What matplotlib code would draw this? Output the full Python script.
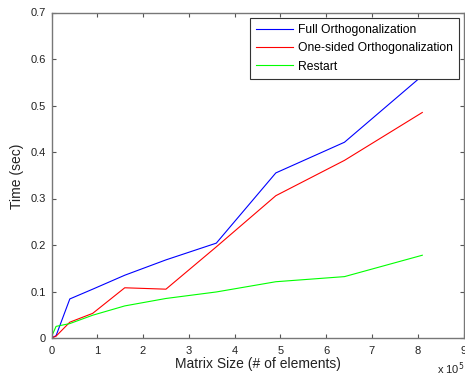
import matplotlib
matplotlib.use('Agg')
import matplotlib.pyplot as plt

# matrix size in units of 1e5 elements
sizes = [0.001, 0.1, 0.4, 0.9, 1.6, 2.5, 3.6, 4.9, 6.4, 8.1]
full_orth = [0.0, 0.005, 0.084, 0.105, 0.135, 0.168, 0.204, 0.355, 0.421, 0.564]
one_sided = [0.0, 0.004, 0.034, 0.053, 0.108, 0.105, 0.196, 0.306, 0.382, 0.485]
restart = [0.003, 0.025, 0.031, 0.049, 0.069, 0.085, 0.099, 0.121, 0.132, 0.178]

plt.rcParams['font.family'] = ['Liberation Sans', 'DejaVu Sans']

W, H = 465.0, 375.0
fig = plt.figure(figsize=(4.65, 3.75), dpi=100)
# axes box in pixels: left 51.5, right 463.5, top 12.5, bottom 338
ax = fig.add_axes([51.5 / W, 1 - 338 / H, 412 / W, 325.5 / H])

ax.plot(sizes, full_orth, color='#0000ff', lw=0.8, label='Full Orthogonalization')
ax.plot(sizes, one_sided, color='#ff0000', lw=0.8, label='One-sided Orthogonalization')
ax.plot(sizes, restart, color='#00ff00', lw=0.8, label='Restart')

ax.set_xlim(0, 9)
ax.set_ylim(0, 0.7)
ax.set_xticks(range(10))
ax.set_yticks([0, 0.1, 0.2, 0.3, 0.4, 0.5, 0.6, 0.7])
ax.set_yticklabels(['0', '0.1', '0.2', '0.3', '0.4', '0.5', '0.6', '0.7'])
ax.tick_params(direction='in', top=True, right=True, labelsize=8, length=3,
               color='#555555', labelcolor='#222222')
ax.tick_params(axis='x', pad=5.5)
ax.tick_params(axis='y', pad=4)
for s in ax.spines.values():
    s.set_color('#777777')
    s.set_linewidth(1.0)

# axis labels centred on the axes, like matlab does
fig.text(257.5 / W, 1 - 364 / H, 'Matrix Size (# of elements)', fontsize=10,
         color='#222222', ha='center', va='center')
fig.text(17 / W, 1 - 176 / H, 'Time (sec)', fontsize=10, color='#222222',
         ha='center', va='center', rotation=90)
fig.text(437 / W, 1.5 / H, r'x 10$^5$', fontsize=8, color='#222222', va='baseline')

leg = ax.legend(loc='upper right', fontsize=8.75, handlelength=3.1,
                bbox_to_anchor=(459.3 / W, 1 - 18.3 / H), bbox_transform=fig.transFigure,
                borderaxespad=0, fancybox=False, framealpha=1, borderpad=0.5,
                labelspacing=0.5, handletextpad=0.4)
leg.get_frame().set_edgecolor('#333333')
leg.get_frame().set_linewidth(0.8)

fig.savefig('out.png', dpi=100)
